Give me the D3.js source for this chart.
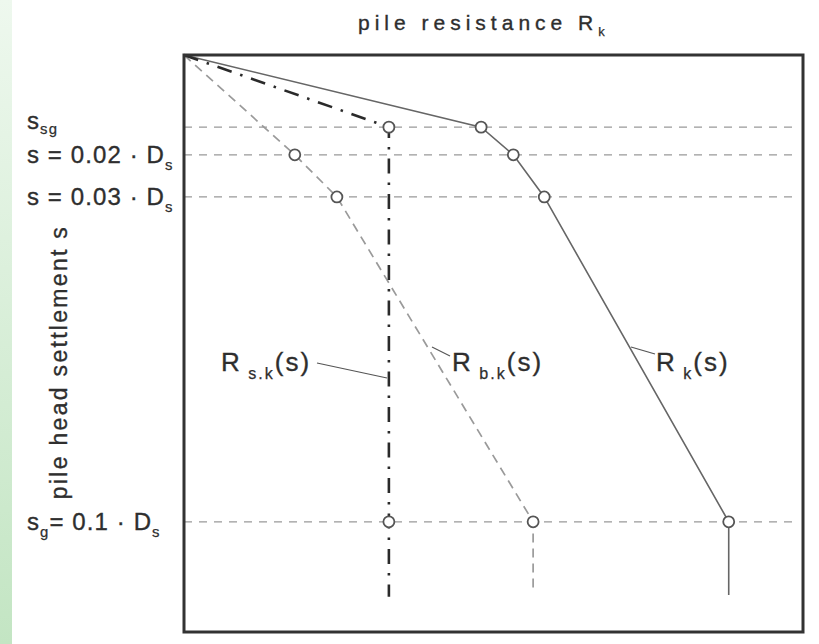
<!DOCTYPE html>
<html>
<head>
<meta charset="utf-8">
<script src="https://cdn.jsdelivr.net/npm/d3@7/dist/d3.min.js"></script>
<style>
  html, body { margin: 0; padding: 0; background: #fff; }
  svg { display: block; }
  text { font-family: "Liberation Sans", Arial, Helvetica, sans-serif; fill: #2e2e2e; stroke: #2e2e2e; stroke-width: 0.35; }
</style>
</head>
<body>
<svg id="chart" width="819" height="644"></svg>
<script>
// Settlement levels (relative depth units, 0 = pile head at rest, 100 = frame bottom)
const levelNames = ["s_sg", "s = 0.02 · D_s", "s = 0.03 · D_s", "s_g = 0.1 · D_s"];
const levelValues = [12.5, 17.3, 24.6, 80.9];

// Shaft resistance R_s.k(s): reaches its limit at s_sg, then constant
const shaftR = [0, 33.1, 33.1, 33.1];
const shaftS = [0, 12.5, 80.9, 93.9];

// Base resistance R_b.k(s)
const baseR = [0, 17.9, 24.7, 56.4, 56.4];
const baseS = [0, 17.3, 24.6, 80.9, 92.7];

// Total resistance R_k(s)
const totalR = [0, 48.0, 53.2, 58.2, 88.0, 88.0];
const totalS = [0, 12.5, 17.3, 24.6, 80.9, 93.6];

// Which vertices carry an open-circle marker
const shaftMarks = [1, 2];
const baseMarks = [1, 2, 3];
const totalMarks = [1, 2, 3, 4];

const svg = d3.select("#chart");
const W = 819, H = 644;
const frame = { left: 184, top: 55, right: 803, bottom: 632 };

// Green page-edge strip
const defs = svg.append("defs");
const grad = defs.append("linearGradient").attr("id", "edge")
  .attr("x1", 0).attr("y1", 0).attr("x2", 0).attr("y2", 1);
grad.append("stop").attr("offset", "0%").attr("stop-color", "#eef8ee");
grad.append("stop").attr("offset", "100%").attr("stop-color", "#c3e5c3");
svg.append("rect").attr("x", 0).attr("y", 0).attr("width", 12).attr("height", H)
  .attr("fill", "url(#edge)");

const x = d3.scaleLinear().domain([0, 100]).range([frame.left, frame.right]);
const y = d3.scaleLinear().domain([0, 100]).range([frame.top, frame.bottom]);

const line = d3.line().x(d => x(d[0])).y(d => y(d[1]));

// Horizontal reference lines for each settlement level
svg.append("g").selectAll("line").data(levelValues).join("line")
  .attr("x1", x(0)).attr("x2", x(98.5))
  .attr("y1", d => y(d)).attr("y2", d => y(d))
  .attr("stroke", "#999").attr("stroke-width", 1.3)
  .attr("stroke-dasharray", "8,7");

// Curves
const shaftPts = d3.zip(shaftR, shaftS);
const basePts = d3.zip(baseR, baseS);
const totalPts = d3.zip(totalR, totalS);

svg.append("path").datum(basePts).attr("d", line)
  .attr("fill", "none").attr("stroke", "#9a9a9a").attr("stroke-width", 1.7)
  .attr("stroke-dasharray", "9,6");

svg.append("path").datum(totalPts).attr("d", line)
  .attr("fill", "none").attr("stroke", "#666").attr("stroke-width", 1.6);

svg.append("path").datum(shaftPts).attr("d", line)
  .attr("fill", "none").attr("stroke", "#2a2a2a").attr("stroke-width", 2.6)
  .attr("stroke-dasharray", "15,9,2.5,9");

// Markers
function marks(pts, idx) {
  svg.append("g").selectAll("circle").data(idx.map(i => pts[i])).join("circle")
    .attr("cx", d => x(d[0])).attr("cy", d => y(d[1])).attr("r", 5.5)
    .attr("fill", "#fff").attr("stroke", "#555").attr("stroke-width", 1.8);
}
marks(shaftPts, shaftMarks);
marks(basePts, baseMarks);
marks(totalPts, totalMarks);

// Frame
svg.append("rect")
  .attr("x", frame.left).attr("y", frame.top)
  .attr("width", frame.right - frame.left).attr("height", frame.bottom - frame.top)
  .attr("fill", "none").attr("stroke", "#333").attr("stroke-width", 3);

// Text with subscripts: parts = [[text, isSub], ...]
function richText(g, xPos, yPos, parts, size, spacing, subDrop) {
  const t = g.append("text").attr("x", xPos).attr("y", yPos)
    .attr("font-size", size).attr("letter-spacing", spacing);
  const drop = subDrop != null ? subDrop : size * 0.3;
  let shift = 0;
  parts.forEach(([s, sub]) => {
    const ts = t.append("tspan").text(s);
    if (sub) {
      ts.attr("font-size", size * 0.62).attr("dy", drop - shift)
        .style("stroke-width", 0.25);
      shift = drop;
    } else {
      ts.attr("dy", -shift);
      shift = 0;
    }
  });
  return t;
}

// Title
richText(svg, 358, 30, [["pile resistance  R", false], ["k", true]], 21, 5);

// Y-axis title
svg.append("text")
  .attr("transform", `translate(67,${362}) rotate(-90)`)
  .attr("text-anchor", "middle").attr("font-size", 23).attr("letter-spacing", 2.3)
  .text("pile head settlement s");

// Level labels
const levelParts = [
  [["s", false], ["sg", true]],
  [["s = 0.02 · D", false], ["s", true]],
  [["s = 0.03 · D", false], ["s", true]],
  [["s", false], ["g", true], ["= 0.1 · D", false], ["s", true]]
];
levelParts.forEach((parts, i) => {
  const yy = y(levelValues[i]) + (i === 0 ? 2 : 8);
  richText(svg, 27, yy, parts, 24, 1.1, i === 0 ? 5 : null);
});

// Curve labels with leader lines
const curveLabels = [
  { parts: [["R", false], [" s.k", true], ["(s)", false]], tx: 221, ty: 371,
    from: [317, 363], to: [387, 378] },
  { parts: [["R", false], [" b.k", true], ["(s)", false]], tx: 452, ty: 371,
    from: [450, 356], to: [432, 347] },
  { parts: [["R", false], [" k", true], ["(s)", false]], tx: 656, ty: 371,
    from: [655, 354], to: [631, 347] }
];
curveLabels.forEach(c => {
  svg.append("line").attr("x1", c.from[0]).attr("y1", c.from[1])
    .attr("x2", c.to[0]).attr("y2", c.to[1])
    .attr("stroke", "#555").attr("stroke-width", 1.2);
  richText(svg, c.tx, c.ty, c.parts, 26, 2);
});
</script>
</body>
</html>
